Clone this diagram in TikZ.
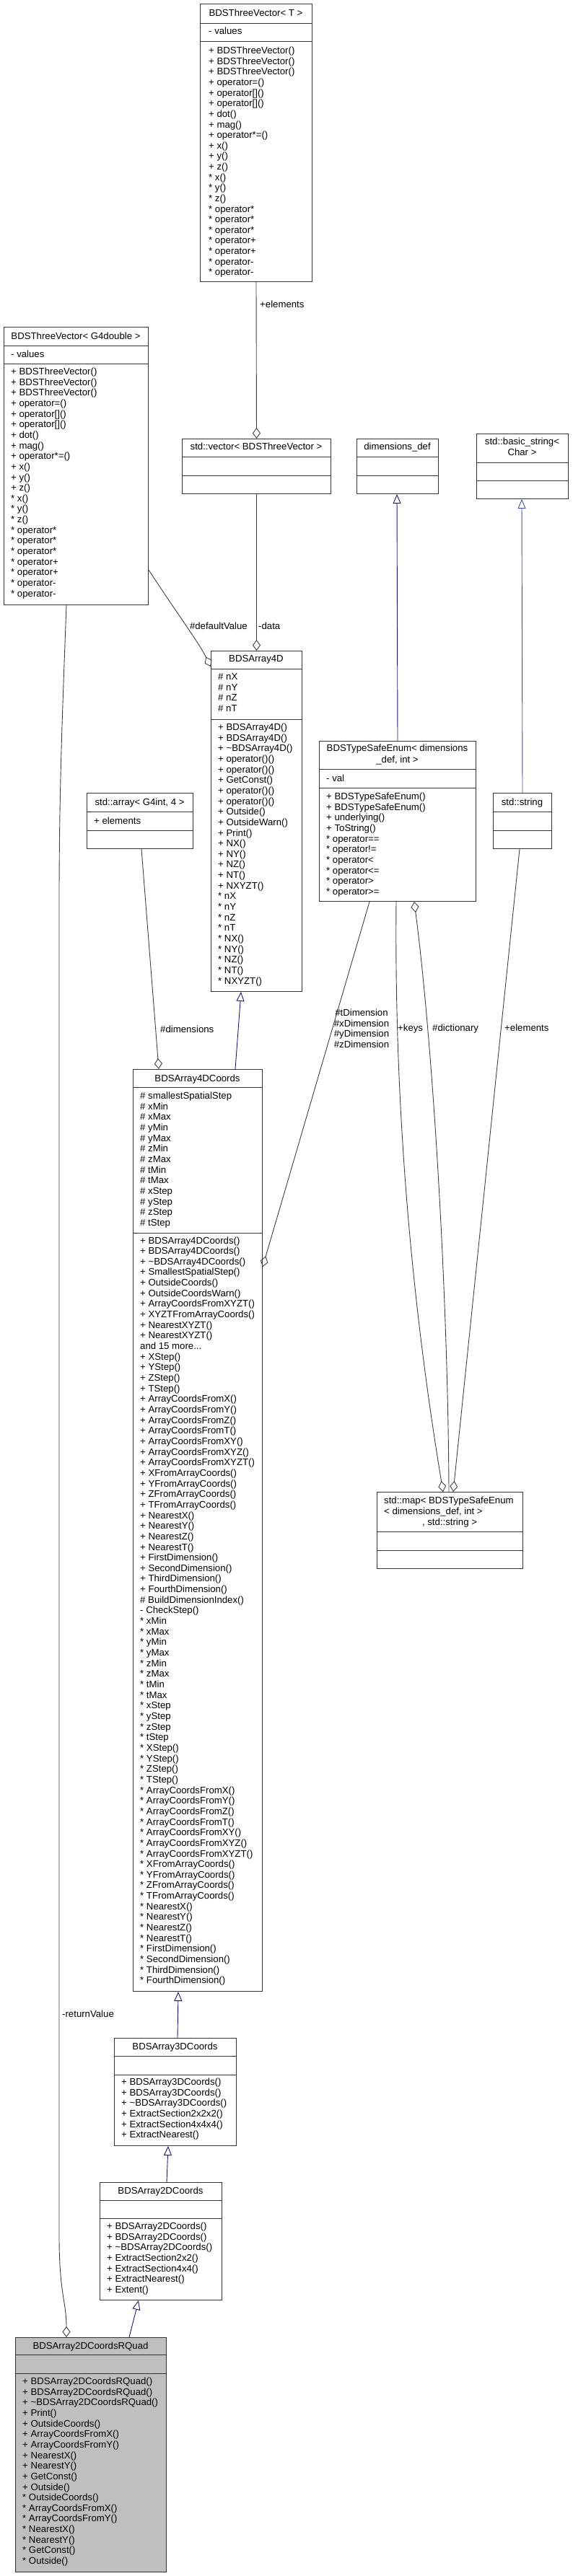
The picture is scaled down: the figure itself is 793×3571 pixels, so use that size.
\documentclass[tikz,border=0pt]{standalone}
\usepackage{fontspec}
\setmainfont{Liberation Sans}
\usetikzlibrary{arrows.meta,calc}
\definecolor{edgegray}{RGB}{64,64,64}
\definecolor{inhblue}{RGB}{25,25,112}
\definecolor{inhbluelight}{RGB}{72,82,156}
\definecolor{boxline}{RGB}{51,51,51}
\definecolor{rqfill}{RGB}{191,191,191}
\tikzset{
  cbox/.style={draw=boxline, line width=1pt, fill=white, inner sep=0pt, anchor=north west},
  sepline/.style={draw=boxline, line width=1pt},
  txt/.style={inner sep=0pt, font=\fontsize{13.2}{14.65}\selectfont, text=black},
  row/.style={txt, anchor=base west},
  ttl/.style={txt, anchor=base},
  lbl/.style={txt, anchor=base west},
  usage/.style={draw=edgegray, line width=0.9pt, -{Diamond[open, length=15pt, width=11pt, line width=0.9pt]}},
  inh/.style={draw=inhblue, line width=0.9pt, -{Triangle[open, length=13pt, width=11pt, line width=0.9pt]}},
  inhlight/.style={draw=inhbluelight, line width=0.9pt, -{Triangle[open, length=13pt, width=11pt, line width=0.9pt]}},
}
\begin{document}
\begin{tikzpicture}[x=1pt,y=-1pt]
\fill[white] (0,0) rectangle (793,3571);
\useasboundingbox (0,0) rectangle (793,3571);

% ---------------- boxes ----------------
\node[cbox, minimum width=155pt, minimum height=385pt] (tvT) at (277,5) {};
\node[cbox, minimum width=200pt, minimum height=385pt] (tvG) at (5,453) {};
\node[cbox, minimum width=206pt, minimum height=76pt] (vec) at (252,608) {};
\node[cbox, minimum width=113pt, minimum height=76pt] (dd) at (494,608) {};
\node[cbox, minimum width=127pt, minimum height=90pt] (bs) at (660,601) {};
\node[cbox, minimum width=126pt, minimum height=472pt] (a4) at (292,902) {};
\node[cbox, minimum width=147pt, minimum height=77pt] (sa) at (120,1099) {};
\node[cbox, minimum width=217pt, minimum height=222pt] (te) at (442,1027) {};
\node[cbox, minimum width=81pt, minimum height=77pt] (ss) at (683,1099) {};
\node[cbox, minimum width=179pt, minimum height=1278pt] (c4) at (184,1482) {};
\node[cbox, minimum width=202pt, minimum height=106pt] (mp) at (522,2068) {};
\node[cbox, minimum width=169pt, minimum height=149pt] (c3) at (158,2825) {};
\node[cbox, minimum width=169pt, minimum height=163pt] (c2) at (138,3025) {};
\node[cbox, fill=rqfill, minimum width=209pt, minimum height=325pt] (rq) at (21,3240) {};

% separators
\foreach \n/\a/\b in {tvT/27/52, tvG/26/51, vec/25/51, dd/25/51, bs/40/65, a4/25/95,
  sa/26/52, te/39/65, ss/26/52, c4/25/227, mp/55/81, c3/25/51, c2/25/50, rq/24/50} {
  \draw[sepline] ([yshift=-\a pt]\n.north west) -- ([yshift=-\a pt]\n.north east);
  \draw[sepline] ([yshift=-\b pt]\n.north west) -- ([yshift=-\b pt]\n.north east);
}

% ---------------- edges ----------------
\draw[usage] (tvT.south) -- (vec.north);
\draw[usage] (vec.south) -- (a4.north);
\draw[usage] ($(tvG.north east)+(0,337)$) .. controls (245,850) and (275,890) .. ($(a4.north west)+(0,22)$);
\draw[usage] ($(tvG.south west)+(87,0)$) .. controls (86,1000) and (82,1100) .. (82,1250)
   -- (82,3100) .. controls (82,3180) and (92,3190) .. ($(rq.north west)+(71,0)$);
\draw[inh] ($(te.north west)+(109,0)$) -- ($(dd.south west)+(56,0)$);
\draw[inhlight] ($(ss.north west)+(41,0)$) -- ($(bs.south west)+(63,0)$);
\draw[usage] ($(sa.south west)+(76,0)$) -- ($(c4.north west)+(36,0)$);
\draw[inh] ($(c4.north west)+(142,0)$) -- ($(a4.south west)+(42,0)$);
\draw[usage] ($(te.south west)+(70,0)$) -- ($(c4.north east)+(0,274)$);
\draw[usage] ($(te.south west)+(107,0)$) .. controls (546,1550) and (573,1820) .. ($(mp.north west)+(92,0)$);
\draw[usage] ($(mp.north west)+(100,0)$) .. controls (621,1800) and (600,1450) .. ($(te.south west)+(132,0)$);
\draw[usage] ($(ss.south west)+(37,0)$) -- ($(mp.north west)+(106,0)$);
\draw[inh] ($(c3.north west)+(88,0)$) -- ($(c4.south west)+(63,0)$);
\draw[inh] ($(c2.north west)+(93,0)$) -- ($(c3.south west)+(75,0)$);
\draw[inh] ($(rq.north west)+(158,0)$) -- ($(c2.south west)+(54,0)$);

% edge labels
\node[lbl] (lelem1) at (360,426.5) {+elements};
\node[lbl] (ldata) at (358,872.5) {-data};
\node[txt, anchor=base east] (ldef) at (343,872.5) {\#defaultValue};
\node[lbl] (ldims) at (222,1431.5) {\#dimensions};
\node[lbl] (lret) at (86,2796) {-returnValue};
\node[ttl] (ltd1) at (501,1408.5) {\#tDimension};
\node[ttl] (ltd2) at (501,1423) {\#xDimension};
\node[ttl] (ltd3) at (501,1437.5) {\#yDimension};
\node[ttl] (ltd4) at (501,1452) {\#zDimension};
\node[lbl] (lkeys) at (551,1429.5) {+keys};
\node[lbl] (ldict) at (599,1429.5) {\#dictionary};
\node[lbl] (lelem2) at (699,1429.5) {+elements};

% ---------------- texts ----------------
% BDSThreeVector< T >
\node[ttl] (tvTt) at (354.5,22.7) {BDSThreeVector< T >};
\node[row] (tvTa) at (289,47.5) {- values};
\foreach \t [count=\i from 0] in {+ BDSThreeVector(), + BDSThreeVector(), + BDSThreeVector(),
  + operator=(), + operator[](), + operator[](), + dot(), + mag(), + operator*=(), + x(), + y(), + z(),
  * x(), * y(), * z(), * operator*, * operator*, * operator*, * operator+, * operator+, * operator-, * operator-}
  \node[row] (tvTm\i) at (289,{74.7+\i*14.62}) {\t};

% BDSThreeVector< G4double >
\node[ttl] (tvGt) at (105,470.5) {BDSThreeVector< G4double >};
\node[row] (tvGa) at (15,495.5) {- values};
\foreach \t [count=\i from 0] in {+ BDSThreeVector(), + BDSThreeVector(), + BDSThreeVector(),
  + operator=(), + operator[](), + operator[](), + dot(), + mag(), + operator*=(), + x(), + y(), + z(),
  * x(), * y(), * z(), * operator*, * operator*, * operator*, * operator+, * operator+, * operator-, * operator-}
  \node[row] (tvGm\i) at (15,{519.5+\i*14.65}) {\t};

% std::vector, dimensions_def, basic_string
\node[ttl] (vect) at (355,623.5) {std::vector< BDSThreeVector >};
\node[ttl] (ddt) at (550.5,623.5) {dimensions\_def};
\node[ttl] (bst1) at (723.5,616.5) {std::basic\_string<};
\node[ttl] (bst2) at (723.5,631.5) {Char >};

% BDSArray4D
\node[ttl] (a4t) at (355,917.5) {BDSArray4D};
\foreach \t [count=\i from 0] in {\# nX, \# nY, \# nZ, \# nT}
  \node[row] (a4a\i) at (302,{942.5+\i*14.67}) {\t};
\foreach \t [count=\i from 0] in {+ BDSArray4D(), + BDSArray4D(), + \textasciitilde BDSArray4D(),
  + operator()(), + operator()(), + GetConst(), + operator()(), + operator()(), + Outside(),
  + OutsideWarn(), + Print(), + NX(), + NY(), + NZ(), + NT(), + NXYZT(), * nX, * nY, * nZ, * nT,
  * NX(), * NY(), * NZ(), * NT(), * NXYZT()}
  \node[row] (a4m\i) at (302,{1012.5+\i*14.65}) {\t};

% std::array
\node[ttl] (sat) at (193.5,1116.5) {std::array< G4int, 4 >};
\node[row] (saa) at (130,1142.5) {+ elements};

% BDSTypeSafeEnum
\node[ttl] (tet1) at (550.5,1041.5) {BDSTypeSafeEnum< dimensions};
\node[ttl] (tet2) at (550.5,1057.5) {\_def, int >};
\node[row] (tea) at (452,1083.5) {- val};
\foreach \t [count=\i from 0] in {+ BDSTypeSafeEnum(), + BDSTypeSafeEnum(), + underlying(),
  + ToString(), * operator==, * operator!=, * operator<, * operator<=, * operator>, * operator>=}
  \node[row] (tem\i) at (452,{1108.5+\i*14.65}) {\t};

% std::string
\node[ttl] (sst) at (723.5,1116.5) {std::string};

% BDSArray4DCoords
\node[ttl] (c4t) at (273.5,1499) {BDSArray4DCoords};
\foreach \t [count=\i from 0] in {\# smallestSpatialStep, \# xMin, \# xMax, \# yMin, \# yMax,
  \# zMin, \# zMax, \# tMin, \# tMax, \# xStep, \# yStep, \# zStep, \# tStep}
  \node[row] (c4a\i) at (194,{1523.5+\i*14.65}) {\t};
\foreach \t [count=\i from 0] in {+ BDSArray4DCoords(), + BDSArray4DCoords(),
  + \textasciitilde BDSArray4DCoords(), + SmallestSpatialStep(), + OutsideCoords(),
  + OutsideCoordsWarn(), + ArrayCoordsFromXYZT(), + XYZTFromArrayCoords(), + NearestXYZT(),
  + NearestXYZT(), and 15 more{.}{.}{.}, + XStep(), + YStep(), + ZStep(), + TStep(),
  + ArrayCoordsFromX(), + ArrayCoordsFromY(), + ArrayCoordsFromZ(), + ArrayCoordsFromT(),
  + ArrayCoordsFromXY(), + ArrayCoordsFromXYZ(), + ArrayCoordsFromXYZT(), + XFromArrayCoords(),
  + YFromArrayCoords(), + ZFromArrayCoords(), + TFromArrayCoords(), + NearestX(), + NearestY(),
  + NearestZ(), + NearestT(), + FirstDimension(), + SecondDimension(), + ThirdDimension(),
  + FourthDimension(), \# BuildDimensionIndex(), - CheckStep(), * xMin, * xMax, * yMin, * yMax,
  * zMin, * zMax, * tMin, * tMax, * xStep, * yStep, * zStep, * tStep, * XStep(), * YStep(),
  * ZStep(), * TStep(), * ArrayCoordsFromX(), * ArrayCoordsFromY(), * ArrayCoordsFromZ(),
  * ArrayCoordsFromT(), * ArrayCoordsFromXY(), * ArrayCoordsFromXYZ(), * ArrayCoordsFromXYZT(),
  * XFromArrayCoords(), * YFromArrayCoords(), * ZFromArrayCoords(), * TFromArrayCoords(),
  * NearestX(), * NearestY(), * NearestZ(), * NearestT(), * FirstDimension(),
  * SecondDimension(), * ThirdDimension(), * FourthDimension()}
  \node[row] (c4m\i) at (194,{1724+\i*14.655}) {\t};

% std::map
\node[row] (mpt1) at (532,2084.5) {std::map< BDSTypeSafeEnum};
\node[row] (mpt2) at (532,2099.5) {< dimensions\_def, int >};
\node[ttl] (mpt3) at (623,2114.5) {, std::string >};

% BDSArray3DCoords
\node[ttl] (c3t) at (242.5,2841.5) {BDSArray3DCoords};
\foreach \t [count=\i from 0] in {+ BDSArray3DCoords(), + BDSArray3DCoords(),
  + \textasciitilde BDSArray3DCoords(), + ExtractSection2x2x2(), + ExtractSection4x4x4(),
  + ExtractNearest()}
  \node[row] (c3m\i) at (168,{2890.5+\i*14.65}) {\t};

% BDSArray2DCoords
\node[ttl] (c2t) at (222.5,3041.5) {BDSArray2DCoords};
\foreach \t [count=\i from 0] in {+ BDSArray2DCoords(), + BDSArray2DCoords(),
  + \textasciitilde BDSArray2DCoords(), + ExtractSection2x2(), + ExtractSection4x4(),
  + ExtractNearest(), + Extent()}
  \node[row] (c2m\i) at (148,{3090.5+\i*14.65}) {\t};

% BDSArray2DCoordsRQuad
\node[ttl] (rqt) at (125.5,3256.5) {BDSArray2DCoordsRQuad};
\foreach \t [count=\i from 0] in {+ BDSArray2DCoordsRQuad(), + BDSArray2DCoordsRQuad(),
  + \textasciitilde BDSArray2DCoordsRQuad(), + Print(), + OutsideCoords(), + ArrayCoordsFromX(),
  + ArrayCoordsFromY(), + NearestX(), + NearestY(), + GetConst(), + Outside(), * OutsideCoords(),
  * ArrayCoordsFromX(), * ArrayCoordsFromY(), * NearestX(), * NearestY(), * GetConst(), * Outside()}
  \node[row] (rqm\i) at (31,{3305.5+\i*14.65}) {\t};

\end{tikzpicture}
\end{document}
